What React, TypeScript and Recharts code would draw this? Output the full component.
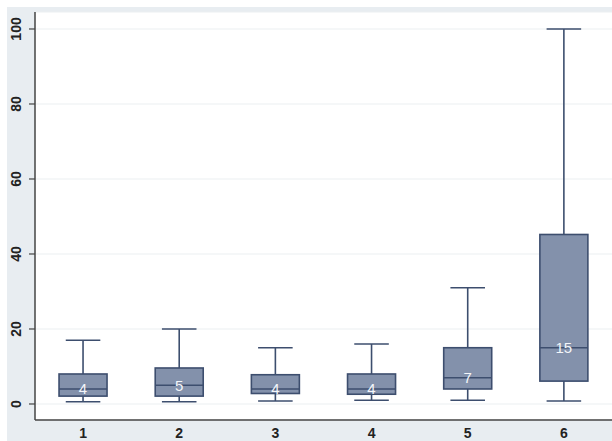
import React from "react";
import { ComposedChart, Bar, XAxis, YAxis, CartesianGrid } from "recharts";

// Groups on the horizontal axis
const groups = ["1", "2", "3", "4", "5", "6"];
// Five-number summaries per group
const lowerWhisker = [0.6, 0.6, 0.8, 1, 1, 0.8];
const lowerQuartile = [2.1, 2.1, 2.8, 2.6, 4, 6.1];
const medians = [4, 5, 4, 4, 7, 15];
const upperQuartile = [8, 9.6, 7.8, 8, 15, 45.2];
const upperWhisker = [17, 20, 15, 16, 31, 100];
// Y axis ticks
const yTicks = [0, 20, 40, 60, 80, 100];

const data = groups.map((g, i) => ({
  group: g,
  min: lowerWhisker[i],
  q1: lowerQuartile[i],
  median: medians[i],
  q3: upperQuartile[i],
  max: upperWhisker[i],
}));

const BOX_FILL = "#8391ab";
const BOX_STROKE = "#3d4e6e";
const FONT = "Liberation Sans, Arial, sans-serif";

// Draws one box with whiskers; the bar itself spans [min, max] so
// the linear value->pixel mapping is recovered from its geometry.
const BoxShape = (props: any) => {
  const { x, y, width, height, payload } = props;
  const top = Math.min(y, y + height);
  const bottom = Math.max(y, y + height);
  const { min, max, q1, q3, median } = payload;
  const toPx = (v: number) => bottom - ((v - min) / (max - min)) * (bottom - top);
  const cx = x + width / 2;
  const capHalf = width * 0.36;
  const yQ1 = toPx(q1);
  const yQ3 = toPx(q3);
  const yMed = toPx(median);
  return (
    <g>
      <line x1={cx} x2={cx} y1={top} y2={yQ3} stroke={BOX_STROKE} strokeWidth={1.6} />
      <line x1={cx} x2={cx} y1={yQ1} y2={bottom} stroke={BOX_STROKE} strokeWidth={1.6} />
      <line x1={cx - capHalf} x2={cx + capHalf} y1={top} y2={top} stroke={BOX_STROKE} strokeWidth={1.6} />
      <line x1={cx - capHalf} x2={cx + capHalf} y1={bottom} y2={bottom} stroke={BOX_STROKE} strokeWidth={1.6} />
      <rect x={x} y={yQ3} width={width} height={yQ1 - yQ3} fill={BOX_FILL} stroke={BOX_STROKE} strokeWidth={1.6} />
      <line x1={x} x2={x + width} y1={yMed} y2={yMed} stroke={BOX_STROKE} strokeWidth={1.6} />
      <text
        x={cx}
        y={yMed}
        textAnchor="middle"
        dominantBaseline="central"
        fill="#f4f6fa"
        fontSize={15}
        fontFamily={FONT}
      >
        {median}
      </text>
    </g>
  );
};

const YTick = (props: any) => {
  const { x, y, payload } = props;
  return (
    <text
      x={0}
      y={0}
      transform={`translate(${x - 11}, ${y}) rotate(-90)`}
      textAnchor="middle"
      dominantBaseline="central"
      fill="#222"
      fontSize={14}
      fontWeight="bold"
      fontFamily={FONT}
    >
      {payload.value}
    </text>
  );
};

export default function App() {
  return (
    <div style={{ position: "absolute", left: 0, top: 0, width: 612, height: 441, background: "#ffffff" }}>
      <div style={{ position: "absolute", left: 7, top: 7, width: 605, height: 434, background: "#e8edf1" }} />
      <div style={{ position: "absolute", left: 35, top: 12, width: 577, height: 408, background: "#ffffff" }} />
      <div style={{ position: "absolute", left: 0, top: 0 }}>
        <ComposedChart
          width={612}
          height={441}
          data={data}
          margin={{ top: 12, right: 0, bottom: 0, left: 0 }}
          barCategoryGap="25%"
        >
          <CartesianGrid vertical={false} stroke="#eceff2" strokeWidth={1.2} />
          <XAxis
            dataKey="group"
            height={21}
            axisLine={{ stroke: "#444", strokeWidth: 1.5 }}
            tickLine={false}
            tickSize={0}
            tick={{ fill: "#222", fontSize: 14, fontWeight: "bold", fontFamily: FONT }}
            tickMargin={8}
            interval={0}
          />
          <YAxis
            width={35}
            domain={[-4.27, 104.53]}
            ticks={yTicks}
            allowDataOverflow
            axisLine={{ stroke: "#444", strokeWidth: 1.5 }}
            tickLine={{ stroke: "#444", strokeWidth: 1.2 }}
            tickSize={6}
            tick={<YTick />}
          />
          <Bar
            dataKey={(d: any) => [d.min, d.max]}
            shape={<BoxShape />}
            isAnimationActive={false}
          />
        </ComposedChart>
      </div>
    </div>
  );
}
